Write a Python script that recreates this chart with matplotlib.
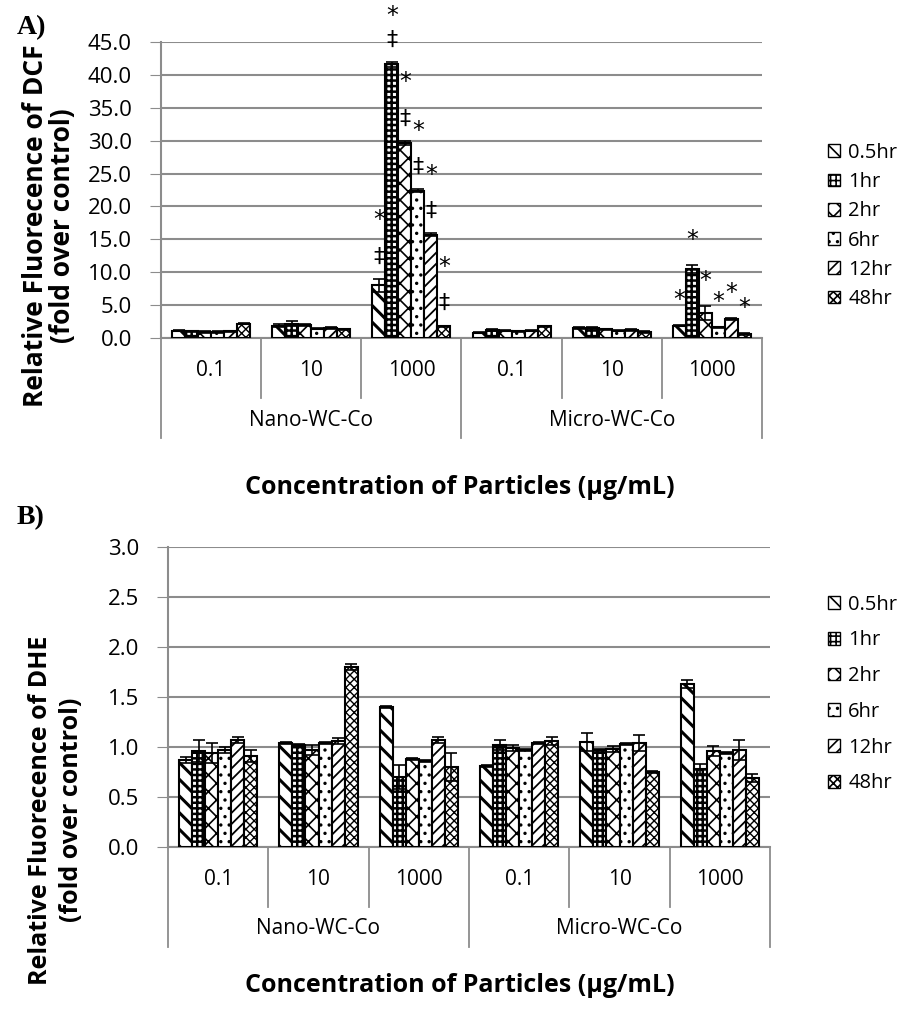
"""
Relative fluorescence (DCF / DHE) of WC-Co particle exposures, two stacked panels.
"""
import matplotlib

matplotlib.use("Agg")
import matplotlib.pyplot as plt
import matplotlib.transforms as mtransforms
from matplotlib.patches import Patch
import numpy as np

plt.rcParams["font.family"] = ["Open Sans", "DejaVu Sans"]
plt.rcParams["hatch.linewidth"] = 1.2

# ---- data -------------------------------------------------------------
concentrations = ["0.1", "10", "1000", "0.1", "10", "1000"]
particle_groups = ["Nano-WC-Co", "Micro-WC-Co"]
timepoints = ["0.5hr", "1hr", "2hr", "6hr", "12hr", "48hr"]

# panel A (DCF) - rows = timepoint, columns = concentration
dcf_mean = [
    [1.1, 1.9, 8.0, 0.8, 1.5, 1.9],      # 0.5hr
    [1.0, 2.2, 41.6, 1.2, 1.5, 10.5],    # 1hr
    [0.9, 2.0, 29.7, 1.1, 1.3, 3.8],     # 2hr
    [0.9, 1.4, 22.4, 1.0, 1.1, 1.6],     # 6hr
    [1.0, 1.5, 15.7, 1.1, 1.2, 2.9],     # 12hr
    [2.2, 1.3, 1.8, 1.8, 0.9, 0.6],      # 48hr
]
dcf_err = [
    [0.1, 0.2, 1.0, 0.1, 0.1, 0.1],
    [0.1, 0.4, 0.4, 0.1, 0.1, 0.6],
    [0.1, 0.1, 0.3, 0.1, 0.1, 1.0],
    [0.1, 0.1, 0.2, 0.1, 0.1, 0.1],
    [0.1, 0.1, 0.2, 0.1, 0.1, 0.1],
    [0.1, 0.1, 0.1, 0.1, 0.1, 0.1],
]
# significance marks on panel A, keyed by concentration column
dcf_marks_top = {2: ["*"] * 6, 5: ["*"] * 6}
dcf_marks_low = {2: ["‡"] * 6}
# distance (points) of the "*" above the error bar, per timepoint
dcf_top_offset = {2: [42, 33, 42, 42, 42, 42], 5: [18, 18, 18, 18, 18, 18]}

# panel B (DHE)
dhe_mean = [
    [0.87, 1.04, 1.40, 0.81, 1.05, 1.63],   # 0.5hr
    [0.96, 1.02, 0.70, 1.02, 0.97, 0.78],   # 1hr
    [0.94, 0.97, 0.88, 0.99, 0.98, 0.96],   # 2hr
    [0.97, 1.04, 0.86, 0.97, 1.03, 0.94],   # 6hr
    [1.07, 1.06, 1.07, 1.04, 1.04, 0.97],   # 12hr
    [0.91, 1.80, 0.80, 1.06, 0.75, 0.69],   # 48hr
]
dhe_err = [
    [0.03, 0.01, 0.01, 0.01, 0.09, 0.04],
    [0.11, 0.01, 0.12, 0.05, 0.01, 0.05],
    [0.10, 0.05, 0.01, 0.03, 0.03, 0.05],
    [0.03, 0.01, 0.01, 0.01, 0.01, 0.01],
    [0.03, 0.03, 0.03, 0.01, 0.08, 0.10],
    [0.06, 0.03, 0.14, 0.04, 0.01, 0.04],
]

hatches = ["\\\\", "+++", "xx", "..", "///", "xxxx"]
hatch_lw = [2.2, 1.8, 1.2, 1.2, 1.3, 1.0]
GRID = "#8c8c8c"


def draw_panel(fig, rect, means, errs, ymax, ystep, fmt,
               marks_top=None, marks_low=None, top_offset=None):
    ax = fig.add_axes(rect)
    n_cat = len(concentrations)
    n_ser = len(timepoints)
    x = np.arange(n_cat)
    width = 0.13
    for i in range(n_ser):
        pos = x + (i - (n_ser - 1) / 2) * width
        bars = ax.bar(pos, means[i], width, color="white", edgecolor="black",
                      linewidth=1.5, hatch=hatches[i], zorder=3)
        if hasattr(bars[0], "set_hatch_linewidth"):
            for b in bars:
                b.set_hatch_linewidth(hatch_lw[i])
        ax.errorbar(pos, means[i], yerr=errs[i], fmt="none", ecolor="black",
                    elinewidth=1.2, capsize=4, capthick=1.2, zorder=4)
        for col, labels in (marks_low or {}).items():
            ax.annotate(labels[i], (pos[col], means[i][col] + errs[i][col]),
                        xytext=(0, 16), textcoords="offset points",
                        ha="center", va="center", fontsize=16,
                        family=["DejaVu Sans"])
        for col, labels in (marks_top or {}).items():
            ax.annotate(labels[i], (pos[col], means[i][col] + errs[i][col]),
                        xytext=(0, top_offset[col][i]),
                        textcoords="offset points",
                        ha="center", va="center", fontsize=17,
                        family=["DejaVu Sans"])

    ax.set_xlim(-0.5, n_cat - 0.5)
    ax.set_ylim(0, ymax)
    ticks = np.arange(0, ymax + ystep / 2, ystep)
    ax.set_yticks(ticks)
    ax.set_yticklabels([fmt % t for t in ticks], fontsize=16)
    ax.yaxis.grid(True, color=GRID, linewidth=1.5, zorder=0)
    ax.set_axisbelow(True)
    ax.tick_params(axis="y", direction="out", length=8, color=GRID, pad=13)
    for s in ("top", "right"):
        ax.spines[s].set_visible(False)
    for s in ("left", "bottom"):
        ax.spines[s].set_color(GRID)
        ax.spines[s].set_linewidth(1.5)

    ax.set_xticks(x)
    ax.set_xticklabels(concentrations, fontsize=15)
    ax.tick_params(axis="x", length=0, pad=16)

    # two-level category axis (Excel style)
    trans = mtransforms.blended_transform_factory(ax.transData, ax.transAxes)
    h_ax = rect[3] * fig.get_figheight() * fig.dpi
    short = -60 / h_ax
    deep = -100 / h_ax
    for b in np.arange(-0.5, n_cat, 1.0):
        y1 = deep if b in (-0.5, 2.5, 5.5) else short
        ax.plot([b, b], [0, y1], transform=trans, color=GRID, lw=1.3,
                clip_on=False)
    for g, name in enumerate(particle_groups):
        ax.text(g * 3 + 1, -82 / h_ax, name, transform=trans, ha="center",
                va="center", fontsize=15)

    handles = [Patch(facecolor="white", edgecolor="black", hatch=h)
               for h in hatches]
    return ax, handles


fig = plt.figure(figsize=(9.1, 10.1), dpi=100)
W, H = 910, 1010

axA, handles = draw_panel(
    fig, [161 / W, 1 - 338 / H, 601 / W, 296 / H], dcf_mean, dcf_err,
    45, 5, "%.1f", marks_top=dcf_marks_top, marks_low=dcf_marks_low,
    top_offset=dcf_top_offset)
axB, _ = draw_panel(
    fig, [168 / W, 1 - 847 / H, 602 / W, 300 / H], dhe_mean, dhe_err,
    3.0, 0.5, "%.1f")

for ax_y, spacing in ((226 / H, 0.46), (694 / H, 0.78)):
    fig.legend(handles, timepoints, loc="center left",
               bbox_to_anchor=(810 / W, 1 - ax_y), frameon=False,
               fontsize=14.5, handlelength=0.6, handleheight=0.6,
               handletextpad=0.4, labelspacing=spacing)

fig.text(49 / W, 1 - 226 / H, "Relative Fluorecence of DCF\n(fold over control)",
         rotation=90, ha="center", va="center", fontsize=19,
         fontweight="bold", linespacing=1.0)
fig.text(56 / W, 1 - 810 / H, "Relative Fluorecence of DHE\n(fold over control)",
         rotation=90, ha="center", va="center", fontsize=18,
         fontweight="bold", linespacing=1.3)
fig.text(460 / W, 1 - 488 / H, "Concentration of Particles (µg/mL)",
         ha="center", va="center", fontsize=18, fontweight="bold")
fig.text(460 / W, 1 - 985 / H, "Concentration of Particles (µg/mL)",
         ha="center", va="center", fontsize=18, fontweight="bold")
fig.text(17 / W, 1 - 28 / H, "A)", ha="left", va="center", fontsize=20,
         fontweight="bold", family=["Liberation Serif"])
fig.text(17 / W, 1 - 518 / H, "B)", ha="left", va="center", fontsize=20,
         fontweight="bold", family=["Liberation Serif"])

fig.savefig("out.png", dpi=100)
